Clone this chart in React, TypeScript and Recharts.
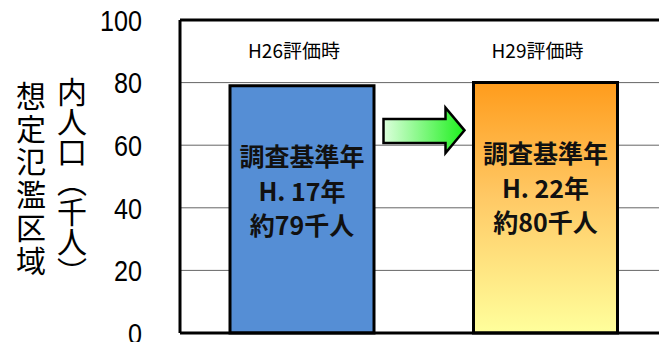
import React from 'react';
import { BarChart, Bar, XAxis, YAxis, CartesianGrid, Cell, LabelList, ReferenceLine, Customized } from 'recharts';

const categories = ['H26評価時', 'H29評価時'];
const population = [79, 80];
const baseYears = ['H. 17年', 'H. 22年'];
const popLabels = ['約79千人', '約80千人'];
const yTicks = [0, 20, 40, 60, 80, 100];

const data = categories.map((name, i) => ({
  name,
  value: population[i],
  year: baseYears[i],
  pop: popLabels[i],
}));

const W = 700;
const H = 342;
const M = { top: 20, right: 33, bottom: 9, left: 0 };
const Y_AXIS_W = 180;
const JP = "'Noto Sans CJK JP', sans-serif";
const NUM = "'Liberation Sans', sans-serif";

// arrow between the bars, in data units
const arrowBody = [60.7, 68.4];
const arrowHead = [57.5, 72];
const catLabelLevel = 90;

const Arrow = () => {
  const plotH = H - M.top - M.bottom;
  const plotW = W - M.right - Y_AXIS_W;
  const sy = (v: number) => M.top + plotH * (1 - v / 100);
  const cx = Y_AXIS_W + plotW / 2;
  const x0 = cx - 40;
  const xn = cx + 22;
  const x1 = cx + 41;
  const d = `M${x0},${sy(arrowBody[1])} L${xn},${sy(arrowBody[1])} L${xn},${sy(arrowHead[1])} L${x1},${sy((arrowHead[0] + arrowHead[1]) / 2)} L${xn},${sy(arrowHead[0])} L${xn},${sy(arrowBody[0])} L${x0},${sy(arrowBody[0])} Z`;
  return <path d={d} fill="url(#arrowGrad)" stroke="#000" strokeWidth={2.5} strokeLinejoin="miter" />;
};

const NumTick = (props: any) => {
  const { x, y, payload } = props;
  return (
    <text
      transform={`translate(${x},${y}) scale(0.84,1)`}
      textAnchor="end"
      dy="0.36em"
      fontSize={30}
      fontFamily={NUM}
      fill="#000"
    >
      {payload.value}
    </text>
  );
};

const BarText = (props: any) => {
  const { x, y, width, height, index } = props;
  const cx = x + width / 2;
  const d = data[index];
  const perUnit = height / d.value;
  const catY = y - (catLabelLevel - d.value) * perUnit;
  return (
    <g fontFamily={JP} fill="#111" textAnchor="middle">
      <text x={cx - 8} y={catY} dy="0.36em" fontSize={19} fill="#000">
        {d.name}
      </text>
      <g fontWeight="bold" fontSize={25}>
        <text x={cx} y={y + 80}>調査基準年</text>
        <text x={cx} y={y + 115}>{d.year}</text>
        <text x={cx} y={y + 149}>{d.pop}</text>
      </g>
    </g>
  );
};

const YLabel = () => (
  <g fontFamily={JP} fontSize={30} fill="#000">
    <text x={31} y={180} textAnchor="middle" style={{ writingMode: 'vertical-rl' }} letterSpacing={3}>
      想定氾濫区域
    </text>
    <text x={72} y={182} textAnchor="middle" style={{ writingMode: 'vertical-rl' }}>
      内人口（千人）
    </text>
  </g>
);

export default function App() {
  return (
    <div style={{ position: 'absolute', left: 0, top: 0, width: 659, height: 342, overflow: 'hidden', background: '#fff' }}>
      <BarChart width={W} height={H} data={data} margin={M} barSize={144}>
        <defs>
          <linearGradient id="orangeGrad" x1="0" y1="0" x2="0" y2="1">
            <stop offset="0%" stopColor="#ff9c1c" />
            <stop offset="45%" stopColor="#ffc864" />
            <stop offset="100%" stopColor="#ffff9c" />
          </linearGradient>
          <linearGradient id="arrowGrad" x1="0" y1="0" x2="1" y2="0">
            <stop offset="0%" stopColor="#dcffdc" />
            <stop offset="100%" stopColor="#1ef01e" />
          </linearGradient>
        </defs>
        <CartesianGrid vertical={false} stroke="#666" strokeWidth={1} />
        <XAxis dataKey="name" hide />
        <YAxis
          domain={[0, 100]}
          ticks={yTicks}
          interval={0}
          width={Y_AXIS_W}
          axisLine={{ stroke: '#000', strokeWidth: 3 }}
          tickLine={false}
          tickMargin={32}
          tick={<NumTick />}
        />
        <ReferenceLine y={100} stroke="#000" strokeWidth={3} />
        <ReferenceLine y={0} stroke="#000" strokeWidth={3} />
        <Bar dataKey="value" stroke="#000" strokeWidth={3} isAnimationActive={false}>
          <Cell fill="#558ed5" />
          <Cell fill="url(#orangeGrad)" />
          <LabelList dataKey="value" content={<BarText />} />
        </Bar>
        <Customized component={<Arrow />} />
        <Customized component={<YLabel />} />
      </BarChart>
    </div>
  );
}
